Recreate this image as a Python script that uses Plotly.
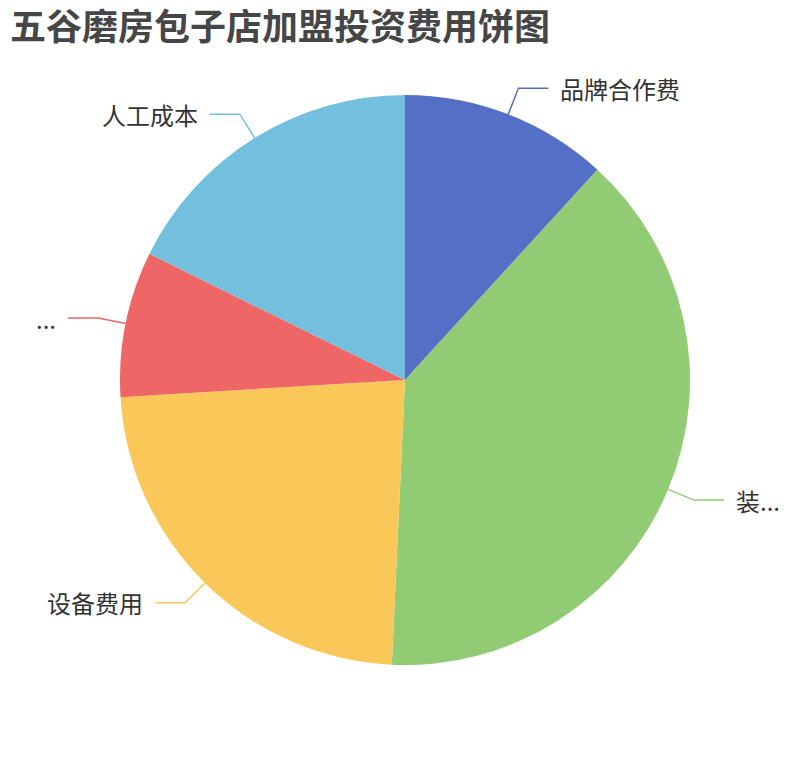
import math
import plotly.graph_objects as go

# Dados do gráfico (rótulos como aparecem na imagem)
labels = ['品牌合作费', '装...', '设备费用', '...', '人工成本']
values = [4.0, 13.2, 7.9, 2.8, 6.0]
colors = ['#5470c6', '#91cc75', '#fac858', '#ee6666', '#73c0de']

title = '五谷磨房包子店加盟投资费用饼图'

# a página tem margem de 8px, então a figura é menor e as posições são deslocadas
off = 8
W, H = 810 - 2 * off, 760 - 2 * off
cx, cy, r = 405 - off, 380 - off, 285
len1, len2, gap = 28, 30, 10

fig = go.Figure(go.Pie(
    labels=labels,
    values=values,
    marker=dict(colors=colors, line=dict(width=0)),
    sort=False,
    direction='clockwise',
    rotation=0,
    textinfo='none',
    showlegend=False,
    domain=dict(x=[(cx - r) / W, (cx + r) / W], y=[1 - (cy + r) / H, 1 - (cy - r) / H]),
))

# linhas guia e rótulos calculados a partir dos valores
total = sum(values)
acc = 0
for lab, v, c in zip(labels, values, colors):
    mid = (acc + v / 2) / total * 2 * math.pi
    acc += v
    s, co = math.sin(mid), math.cos(mid)
    x0, y0 = cx + r * s, cy - r * co
    x1, y1 = cx + (r + len1) * s, cy - (r + len1) * co
    side = 1 if s >= 0 else -1
    x2 = x1 + side * len2
    path = 'M {},{} L {},{} L {},{}'.format(x0 / W, 1 - y0 / H, x1 / W, 1 - y1 / H, x2 / W, 1 - y1 / H)
    fig.add_shape(type='path', path=path, xref='paper', yref='paper',
                  line=dict(color=c, width=1.5))
    fig.add_annotation(x=(x2 + side * gap) / W, y=1 - y1 / H, xref='paper', yref='paper',
                       text=lab, showarrow=False,
                       xanchor='left' if side > 0 else 'right', yanchor='middle',
                       font=dict(size=24, color='#333333', family='Noto Sans CJK SC'))

fig.update_layout(
    width=W, height=H,
    margin=dict(l=0, r=0, t=0, b=0),
    paper_bgcolor='white',
    title=dict(text='<b>' + title + '</b>', x=(10 - off) / W, xanchor='left',
               y=1 - (27 - off) / H, yanchor='middle',
               font=dict(size=36, color='#464646', family='Noto Sans CJK SC')),
)

fig.write_html('out.html')
